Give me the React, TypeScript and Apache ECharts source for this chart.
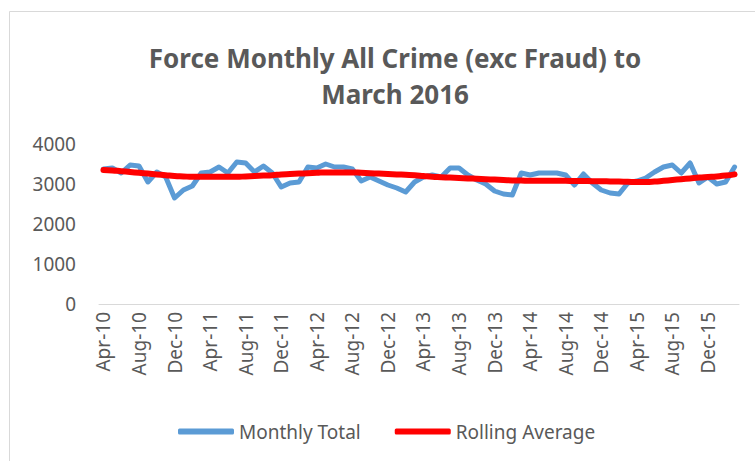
import React, { useEffect, useRef } from 'react';
import * as echarts from 'echarts';

const months = [
  'Apr-10', 'May-10', 'Jun-10', 'Jul-10', 'Aug-10', 'Sep-10', 'Oct-10', 'Nov-10', 'Dec-10',
  'Jan-11', 'Feb-11', 'Mar-11', 'Apr-11', 'May-11', 'Jun-11', 'Jul-11', 'Aug-11', 'Sep-11', 'Oct-11', 'Nov-11', 'Dec-11',
  'Jan-12', 'Feb-12', 'Mar-12', 'Apr-12', 'May-12', 'Jun-12', 'Jul-12', 'Aug-12', 'Sep-12', 'Oct-12', 'Nov-12', 'Dec-12',
  'Jan-13', 'Feb-13', 'Mar-13', 'Apr-13', 'May-13', 'Jun-13', 'Jul-13', 'Aug-13', 'Sep-13', 'Oct-13', 'Nov-13', 'Dec-13',
  'Jan-14', 'Feb-14', 'Mar-14', 'Apr-14', 'May-14', 'Jun-14', 'Jul-14', 'Aug-14', 'Sep-14', 'Oct-14', 'Nov-14', 'Dec-14',
  'Jan-15', 'Feb-15', 'Mar-15', 'Apr-15', 'May-15', 'Jun-15', 'Jul-15', 'Aug-15', 'Sep-15', 'Oct-15', 'Nov-15', 'Dec-15',
  'Jan-16', 'Feb-16', 'Mar-16',
];

const monthlyTotal = [
  3375, 3400, 3275, 3475, 3450, 3050, 3300, 3175, 2650, 2850, 2950, 3275,
  3300, 3425, 3275, 3550, 3525, 3300, 3450, 3275, 2925, 3025, 3050, 3425,
  3400, 3500, 3425, 3425, 3375, 3075, 3175, 3075, 2975, 2900, 2800, 3050,
  3175, 3225, 3175, 3400, 3400, 3225, 3100, 3000, 2825, 2750, 2725, 3275,
  3225, 3275, 3275, 3275, 3225, 2975, 3250, 3025, 2850, 2775, 2750, 3025,
  3075, 3150, 3300, 3425, 3475, 3275, 3525, 3025, 3175, 3000, 3050, 3425,
];

const rollingAverage = [
  3350, 3340, 3320, 3300, 3280, 3260, 3240, 3220, 3200, 3190, 3180, 3180,
  3180, 3180, 3180, 3180, 3190, 3200, 3210, 3220, 3240, 3250, 3260, 3270,
  3280, 3290, 3290, 3290, 3290, 3280, 3270, 3260, 3250, 3240, 3230, 3220,
  3200, 3180, 3170, 3160, 3150, 3140, 3130, 3120, 3110, 3100, 3090, 3085,
  3080, 3080, 3080, 3080, 3080, 3075, 3075, 3070, 3070, 3065, 3060, 3055,
  3050, 3050, 3060, 3080, 3100, 3120, 3140, 3160, 3175, 3190, 3210, 3240,
];

const titleText = 'Force Monthly All Crime (exc Fraud) to\nMarch 2016';
const FONT = '"Noto Sans", "Open Sans", sans-serif';

export default function App() {
  const ref = useRef<HTMLDivElement>(null);
  useEffect(() => {
    const chart = echarts.init(ref.current!, null, { renderer: 'svg' });
    chart.setOption({
      animation: false,
      backgroundColor: '#ffffff',
      textStyle: { fontFamily: FONT },
      graphic: [
        {
          type: 'rect',
          z: -10,
          shape: { x: 9.5, y: 11.5, width: 800, height: 500 },
          style: { fill: 'none', stroke: '#d9d9d9', lineWidth: 1 },
        },
      ],
      title: {
        text: titleText,
        left: 390,
        top: 35,
        textAlign: 'center',
        textStyle: {
          fontFamily: FONT,
          fontSize: 26,
          fontWeight: 'bold',
          color: '#595959',
          lineHeight: 36,
        },
      },
      legend: {
        left: 173,
        top: 417,
        itemWidth: 56,
        itemHeight: 6,
        itemGap: 34,
        textStyle: { fontFamily: FONT, fontSize: 19, color: '#595959' },
        data: [
          { name: 'Monthly Total', icon: 'roundRect', itemStyle: { color: '#5b9bd5' } },
          { name: 'Rolling Average', icon: 'roundRect', itemStyle: { color: '#ff0000' } },
        ],
      },
      grid: { left: 99, right: 16, top: 144, bottom: 157, containLabel: false },
      xAxis: {
        type: 'category',
        data: months,
        boundaryGap: true,
        axisLine: { lineStyle: { color: '#d9d9d9', width: 1 } },
        axisTick: { interval: 3, length: 7, lineStyle: { color: '#d9d9d9' } },
        axisLabel: {
          interval: 3,
          rotate: 90,
          fontFamily: FONT,
          fontSize: 19,
          color: '#595959',
          margin: 8,
        },
        splitLine: { show: false },
      },
      yAxis: {
        type: 'value',
        min: 0,
        max: 4000,
        interval: 1000,
        axisLine: { show: false },
        axisTick: { show: false },
        splitLine: { show: false },
        axisLabel: {
          fontFamily: FONT,
          fontSize: 19,
          color: '#595959',
          margin: 23,
          formatter: (v: number) => String(v),
        },
      },
      series: [
        {
          name: 'Monthly Total',
          type: 'line',
          data: monthlyTotal,
          symbol: 'none',
          lineStyle: { color: '#5b9bd5', width: 5, join: 'round', cap: 'round' },
          itemStyle: { color: '#5b9bd5' },
        },
        {
          name: 'Rolling Average',
          type: 'line',
          data: rollingAverage,
          symbol: 'none',
          smooth: true,
          lineStyle: { color: '#ff0000', width: 6, cap: 'round' },
          itemStyle: { color: '#ff0000' },
        },
      ],
    });
    return () => chart.dispose();
  }, []);
  return (
    <div
      ref={ref}
      style={{ position: 'absolute', left: 0, top: 0, width: 755, height: 461, background: '#fff' }}
    />
  );
}
